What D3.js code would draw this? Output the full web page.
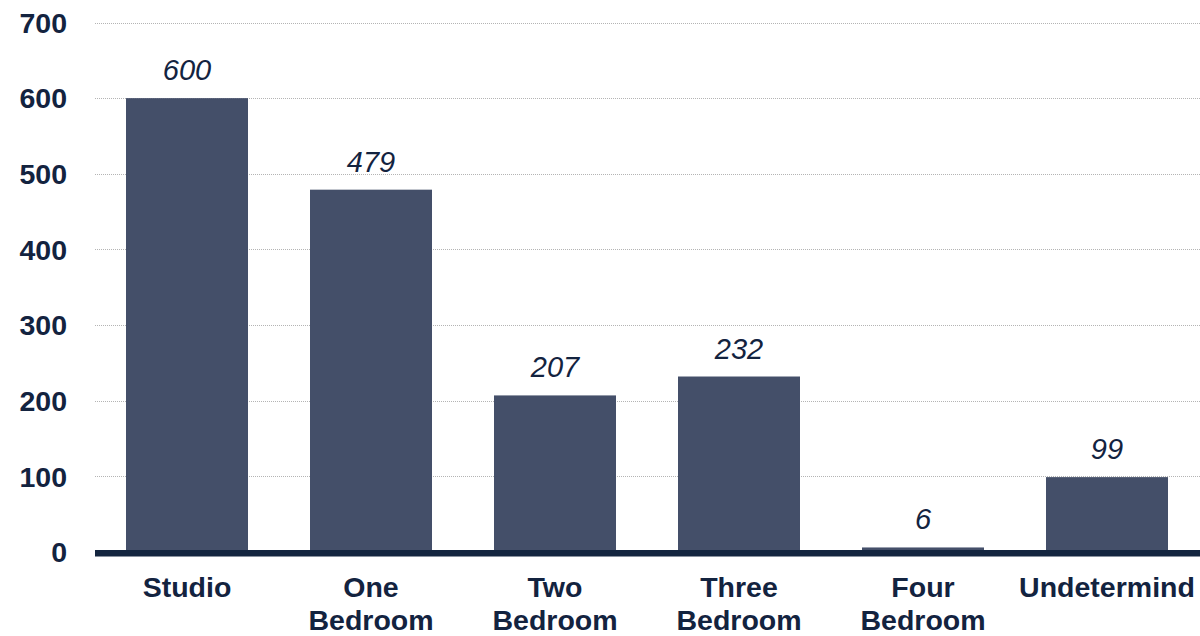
<!DOCTYPE html>
<html><head><meta charset="utf-8">
<script src="https://cdn.jsdelivr.net/npm/d3@7"></script>
<style>body{margin:0;background:#fff}svg{display:block}</style>
</head><body><svg id="c" width="1200" height="636"></svg>
<script>
const categories = [["Studio"],["One","Bedroom"],["Two","Bedroom"],["Three","Bedroom"],["Four","Bedroom"],["Undetermind"]];
const values = [600, 479, 207, 232, 6, 99];
const yTicks = [0, 100, 200, 300, 400, 500, 600, 700];

(function () {
const svg = d3.select("#c");
const W = 1200;
const mLeft = 95, mRight = 1199, mTop = 22.5, mBottom = 552;
const keys = categories.map(d => d.join(" "));
const x = d3.scaleBand().domain(keys).range([mLeft, mRight]).paddingInner(0.337).paddingOuter(0.1685);
const y = d3.scaleLinear().domain([0, 700]).range([mBottom, mTop]);
const textCol = "#13233f";
const font = "Liberation Sans, Arial, sans-serif";

// gridlines
svg.append("g").selectAll("line").data(yTicks.filter(d => d > 0)).join("line")
  .attr("x1", mLeft).attr("x2", W).attr("y1", d => Math.round(y(d)) + 0.5).attr("y2", d => Math.round(y(d)) + 0.5)
  .attr("stroke", "#b4b4b4").attr("stroke-width", 1).attr("stroke-dasharray", "1,1");

// y axis labels
const yAxis = d3.axisLeft(y).tickValues(yTicks).tickSize(0).tickPadding(0);
const gy = svg.append("g").attr("transform", `translate(67,0)`).call(yAxis);
gy.select(".domain").remove();
gy.selectAll("text").attr("font-family", font).attr("font-size", 28.5).attr("font-weight", "bold")
  .attr("fill", textCol).attr("dy", "0.34em");

// bars
svg.append("g").selectAll("rect").data(values).join("rect")
  .attr("x", (d, i) => x(keys[i])).attr("width", x.bandwidth())
  .attr("y", d => y(d)).attr("height", d => Math.max(0, y(0) - y(d) - 2))
  .attr("fill", "#444f69");

// baseline
svg.append("rect").attr("x", mLeft).attr("width", W - mLeft).attr("y", 550).attr("height", 6.5).attr("fill", "#14253f");

// value labels
svg.append("g").selectAll("text").data(values).join("text")
  .attr("x", (d, i) => x(keys[i]) + x.bandwidth() / 2).attr("y", d => y(d) - 18)
  .attr("text-anchor", "middle").attr("font-family", font).attr("font-size", 29).attr("font-style", "italic")
  .attr("fill", textCol).text(d => d);

// x labels
const gx = svg.append("g");
categories.forEach((lines, i) => {
  const t = gx.append("text").attr("text-anchor", "middle").attr("font-family", font).attr("font-size", 28.5)
    .attr("font-weight", "bold").attr("fill", textCol);
  lines.forEach((s, j) => t.append("tspan").attr("x", x(keys[i]) + x.bandwidth() / 2).attr("y", 597 + j * 33).text(s));
});
})();
</script></body></html>
